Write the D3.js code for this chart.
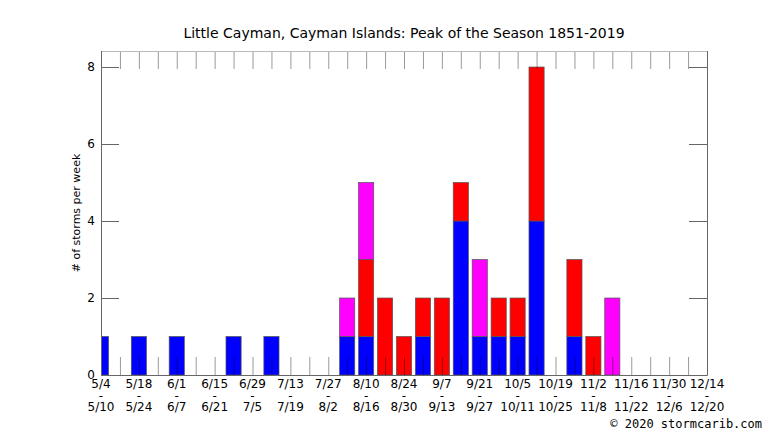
<!DOCTYPE html>
<html lang="en">

<head>
  <meta charset="UTF-8">
  <title>Little Cayman, Cayman Islands: Peak of the Season 1851-2019</title>
  <script src="https://cdn.jsdelivr.net/npm/d3@7.6.1/dist/d3.min.js"></script>
  <style>
    body { margin: 0; background: #fff; }
    svg { display: block; font-family: "DejaVu Sans", sans-serif; }
  </style>
</head>

<body>
  <div id="chart"></div>
  <script>
    const width = 766
    const height = 431
    const margin = { left: 101, right: 60, top: 51, bottom: 56 }

    // weeks, 5/4 .. 12/14
    const weeks = ['5/4', '5/11', '5/18', '5/25', '6/1', '6/8', '6/15', '6/22', '6/29', '7/6',
      '7/13', '7/20', '7/27', '8/3', '8/10', '8/17', '8/24', '8/31', '9/7', '9/14',
      '9/21', '9/28', '10/5', '10/12', '10/19', '10/26', '11/2', '11/9', '11/16', '11/23',
      '11/30', '12/7', '12/14']
    const blue = [1, 0, 1, 0, 1, 0, 0, 1, 0, 1, 0, 0, 0, 1, 1, 0, 0, 1, 0, 4, 1, 1, 1, 4, 0, 1, 0, 0, 0, 0, 0, 0, 0]
    const red = [0, 0, 0, 0, 0, 0, 0, 0, 0, 0, 0, 0, 0, 0, 2, 2, 1, 1, 2, 1, 0, 1, 1, 4, 0, 2, 1, 0, 0, 0, 0, 0, 0]
    const magenta = [0, 0, 0, 0, 0, 0, 0, 0, 0, 0, 0, 0, 0, 1, 2, 0, 0, 0, 0, 0, 2, 0, 0, 0, 0, 0, 0, 2, 0, 0, 0, 0, 0]

    // tick labels every other week
    const labelStarts = ['5/4', '5/18', '6/1', '6/15', '6/29', '7/13', '7/27', '8/10', '8/24', '9/7',
      '9/21', '10/5', '10/19', '11/2', '11/16', '11/30', '12/14']
    const labelEnds = ['5/10', '5/24', '6/7', '6/21', '7/5', '7/19', '8/2', '8/16', '8/30', '9/13',
      '9/27', '10/11', '10/25', '11/8', '11/22', '12/6', '12/20']
    const yTicks = [0, 2, 4, 6, 8]

    const keys = ['blue', 'red', 'magenta']
    const colors = { blue: '#0000ff', red: '#ff0000', magenta: '#ff00ff' }
    const table = weeks.map((w, i) => ({ week: w, blue: blue[i], red: red[i], magenta: magenta[i] }))

    const x0 = margin.left, x1 = width - margin.right + 1
    const yTop = margin.top, yBot = height - margin.bottom

    const x = d3.scalePoint().domain(weeks).range([x0, x1])
    const y = d3.scaleLinear().domain([0, 8.416]).range([yBot, yTop])
    const barW = x.step() * 0.8

    const svg = d3.select('#chart').append('svg')
      .attr('width', width)
      .attr('height', height)

    svg.append('clipPath').attr('id', 'plot')
      .append('rect')
      .attr('x', x0).attr('y', yTop)
      .attr('width', x1 - x0).attr('height', yBot - yTop)

    // stacked bars
    const series = d3.stack().keys(keys)(table)
    svg.append('g').attr('clip-path', 'url(#plot)')
      .selectAll('g').data(series)
      .enter().append('g')
      .attr('fill', d => colors[d.key])
      .selectAll('rect').data(d => d.filter(s => s[1] > s[0]))
      .enter().append('rect')
      .attr('x', d => x(d.data.week) - barW / 2)
      .attr('y', d => y(d[1]))
      .attr('width', barW)
      .attr('height', d => y(d[0]) - y(d[1]))
      .attr('stroke', '#555')
      .attr('stroke-width', 0.7)

    // weekly tick marks, top and bottom
    const inner = weeks.slice(1, -1)
    const tickLen = 18
    const styleAxis = g => {
      g.select('.domain').remove()
      g.selectAll('.tick line').attr('stroke', '#000').attr('stroke-opacity', 0.4)
    }
    svg.append('g')
      .attr('transform', `translate(0,${yBot})`)
      .call(d3.axisBottom(x).tickValues(inner).tickSize(-tickLen).tickFormat(''))
      .call(styleAxis)
    svg.append('g')
      .attr('transform', `translate(0,${yTop})`)
      .call(d3.axisTop(x).tickValues(inner).tickSize(-tickLen).tickFormat(''))
      .call(styleAxis)

    // y ticks, left and right
    svg.append('g')
      .attr('transform', `translate(${x0},0)`)
      .call(d3.axisLeft(y).tickValues(yTicks).tickSize(-tickLen).tickPadding(6))
      .call(g => {
        g.select('.domain').remove()
        g.selectAll('.tick line').attr('stroke', '#666')
        g.selectAll('.tick text').attr('font-size', 12).attr('fill', '#000')
          .attr('font-family', '"DejaVu Sans", sans-serif')
      })
    svg.append('g')
      .attr('transform', `translate(${x1},0)`)
      .call(d3.axisRight(y).tickValues(yTicks.slice(1)).tickSize(-tickLen).tickFormat(''))
      .call(g => {
        g.select('.domain').remove()
        g.selectAll('.tick line').attr('stroke', '#666')
      })

    // border
    svg.append('line').attr('x1', x0).attr('x2', x1).attr('y1', yTop + 0.5).attr('y2', yTop + 0.5)
      .attr('stroke', '#bbb')
    svg.append('path')
      .attr('d', `M${x0 + 0.5},${yTop}V${yBot + 0.5}H${x1 + 0.5}V${yTop}`)
      .attr('fill', 'none')
      .attr('stroke', '#666')

    // x labels: start, dash, end
    const lab = svg.append('g').attr('font-size', 12).attr('text-anchor', 'middle').attr('fill', '#000')
    lab.selectAll('text').data(labelStarts)
      .enter().append('text')
      .attr('x', (d, i) => x(weeks[i * 2]))
      .attr('y', yBot + 13)
      .each(function (d, i) {
        const t = d3.select(this)
        t.append('tspan').attr('x', x(weeks[i * 2])).text(d)
        t.append('tspan').attr('x', x(weeks[i * 2])).attr('dy', 11.5).text('-')
        t.append('tspan').attr('x', x(weeks[i * 2])).attr('dy', 11.5).text(labelEnds[i])
      })

    // title
    svg.append('text')
      .attr('x', (x0 + x1) / 2)
      .attr('y', 38)
      .attr('text-anchor', 'middle')
      .attr('font-size', 14)
      .text('Little Cayman, Cayman Islands: Peak of the Season 1851-2019')

    // y label
    svg.append('text')
      .attr('transform', `translate(80,${(yTop + yBot) / 2}) rotate(-90)`)
      .attr('text-anchor', 'middle')
      .attr('font-size', 11)
      .text('# of storms per week')

    svg.append('text')
      .attr('x', 762)
      .attr('y', 428)
      .attr('text-anchor', 'end')
      .attr('font-family', '"DejaVu Sans Mono", monospace')
      .attr('font-size', 12)
      .text('© 2020 stormcarib.com')
  </script>
</body>

</html>
